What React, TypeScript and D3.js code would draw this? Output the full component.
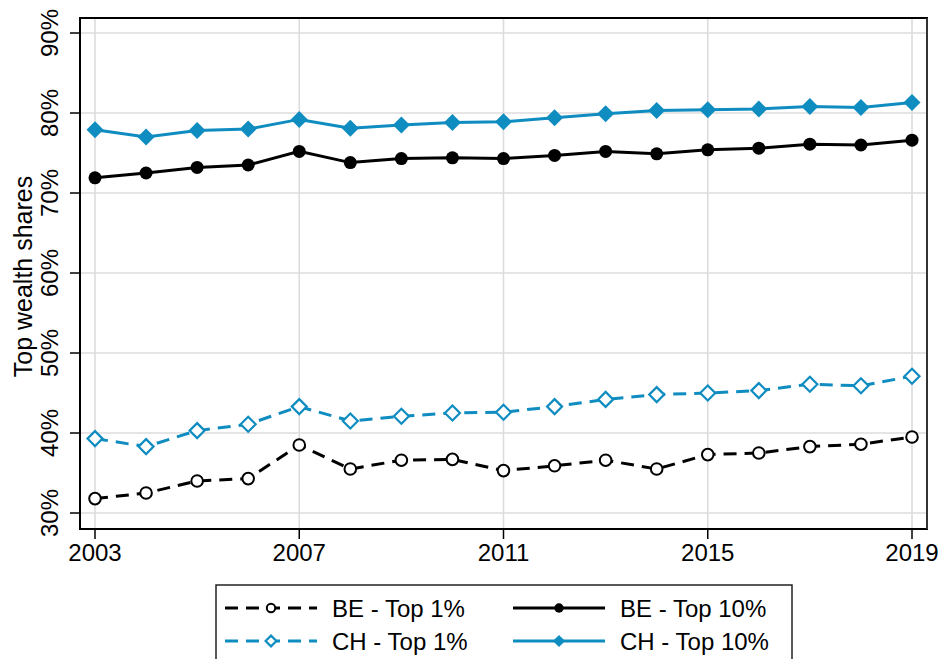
import React from "react";
import * as d3 from "d3";

const years = [2003, 2004, 2005, 2006, 2007, 2008, 2009, 2010, 2011, 2012, 2013, 2014, 2015, 2016, 2017, 2018, 2019];
const beTop1 = [31.8, 32.5, 34.0, 34.3, 38.5, 35.5, 36.6, 36.7, 35.3, 35.9, 36.6, 35.5, 37.3, 37.5, 38.3, 38.6, 39.5];
const beTop10 = [71.9, 72.5, 73.2, 73.5, 75.2, 73.8, 74.3, 74.4, 74.3, 74.7, 75.2, 74.9, 75.4, 75.6, 76.1, 76.0, 76.6];
const chTop1 = [39.3, 38.3, 40.3, 41.1, 43.3, 41.5, 42.1, 42.5, 42.6, 43.3, 44.2, 44.8, 45.0, 45.3, 46.1, 45.9, 47.1];
const chTop10 = [77.9, 77.0, 77.8, 78.0, 79.2, 78.1, 78.5, 78.8, 78.9, 79.4, 79.9, 80.3, 80.4, 80.5, 80.8, 80.7, 81.3];
const yTicks = [30, 40, 50, 60, 70, 80, 90];
const xTicks = [2003, 2007, 2011, 2015, 2019];

const BLUE = "#0f8cc0";
const FONT = "'Liberation Sans', Arial, Helvetica, sans-serif";

type Series = { name: string; values: number[]; color: string; dashed: boolean; marker: "circleOpen" | "circle" | "diamondOpen" | "diamond" };

const series: Series[] = [
  { name: "CH - Top 1%", values: chTop1, color: BLUE, dashed: true, marker: "diamondOpen" },
  { name: "BE - Top 1%", values: beTop1, color: "#000", dashed: true, marker: "circleOpen" },
  { name: "CH - Top 10%", values: chTop10, color: BLUE, dashed: false, marker: "diamond" },
  { name: "BE - Top 10%", values: beTop10, color: "#000", dashed: false, marker: "circle" },
];

function Marker({ kind, x, y, color, s = 1 }: { kind: Series["marker"]; x: number; y: number; color: string; s?: number }) {
  if (kind === "circle") return <circle cx={x} cy={y} r={6.5 * s} fill={color} />;
  if (kind === "circleOpen") return <circle cx={x} cy={y} r={5.8 * s} fill="#fff" stroke={color} strokeWidth={2} />;
  const r = (kind === "diamond" ? 8.5 : 7.5) * s;
  const d = `M${x},${y - r}L${x + r},${y}L${x},${y + r}L${x - r},${y}Z`;
  if (kind === "diamond") return <path d={d} fill={color} />;
  return <path d={d} fill="#fff" stroke={color} strokeWidth={2.2} />;
}

export default function App() {
  const W = 943, H = 659;
  const left = 80, right = 927, top = 18, bottom = 529;
  const x = d3.scaleLinear().domain([2003, 2019]).range([95, 912]);
  const y = d3.scaleLinear().domain([28, 91.875]).range([bottom, top]);
  const line = d3.line<number>().x((_, i) => x(years[i])).y((v) => y(v));

  const legendItems = [
    { s: series[1], cx: 225, tx: 332, row: 0 },
    { s: series[3], cx: 513, tx: 620, row: 0 },
    { s: series[0], cx: 225, tx: 332, row: 1 },
    { s: series[2], cx: 513, tx: 620, row: 1 },
  ];
  const rowY = [608, 641];

  return (
    <svg width={W} height={H} style={{ position: "absolute", left: 0, top: 0, background: "#fff" }} fontFamily={FONT}>
      <rect x={0} y={0} width={W} height={H} fill="#fff" />
      {yTicks.map((t) => (
        <line key={"gy" + t} x1={left} x2={right} y1={y(t)} y2={y(t)} stroke="#dcdcdc" strokeWidth={1.6} />
      ))}
      {xTicks.map((t) => (
        <line key={"gx" + t} x1={x(t)} x2={x(t)} y1={top} y2={bottom} stroke="#dcdcdc" strokeWidth={1.6} />
      ))}
      {series.map((s) => (
        <g key={s.name}>
          <path d={line(s.values) || ""} fill="none" stroke={s.color} strokeWidth={3} strokeDasharray={s.dashed ? "13 8" : undefined} />
          {s.values.map((v, i) => (
            <Marker key={i} kind={s.marker} x={x(years[i])} y={y(v)} color={s.color} />
          ))}
        </g>
      ))}
      <rect x={left} y={top} width={right - left} height={bottom - top} fill="none" stroke="#000" strokeWidth={2} />
      <line x1={right} x2={right} y1={top} y2={bottom} stroke="#333" strokeWidth={2} />
      {yTicks.map((t) => (
        <g key={"yt" + t}>
          <line x1={70} x2={left} y1={y(t)} y2={y(t)} stroke="#000" strokeWidth={1.5} />
          <text transform={`translate(58,${y(t)}) rotate(-90)`} textAnchor="middle" fontSize={24} fill="#000">
            {t}%
          </text>
        </g>
      ))}
      {xTicks.map((t) => (
        <g key={"xt" + t}>
          <line x1={x(t)} x2={x(t)} y1={bottom} y2={539} stroke="#000" strokeWidth={1.5} />
          <text x={x(t)} y={561} textAnchor="middle" fontSize={24} fill="#000">
            {t}
          </text>
        </g>
      ))}
      <text transform={`translate(32,${(top + bottom) / 2 + 3}) rotate(-90)`} textAnchor="middle" fontSize={25} fill="#000">
        Top wealth shares
      </text>
      <rect x={216} y={585} width={576} height={100} fill="#fff" stroke="#222" strokeWidth={1.5} />
      {legendItems.map((it) => {
        const yy = rowY[it.row];
        const x1 = it.cx, x2 = it.cx + 92, mx = (x1 + x2) / 2;
        return (
          <g key={it.s.name}>
            <line x1={x1} x2={x2} y1={yy} y2={yy} stroke={it.s.color} strokeWidth={3} strokeDasharray={it.s.dashed ? "13 8" : undefined} />
            <Marker kind={it.s.marker} x={mx} y={yy} color={it.s.color} s={0.72} />
            <text x={it.tx} y={yy + 8.5} fontSize={24} fill="#000">
              {it.s.name}
            </text>
          </g>
        );
      })}
    </svg>
  );
}
